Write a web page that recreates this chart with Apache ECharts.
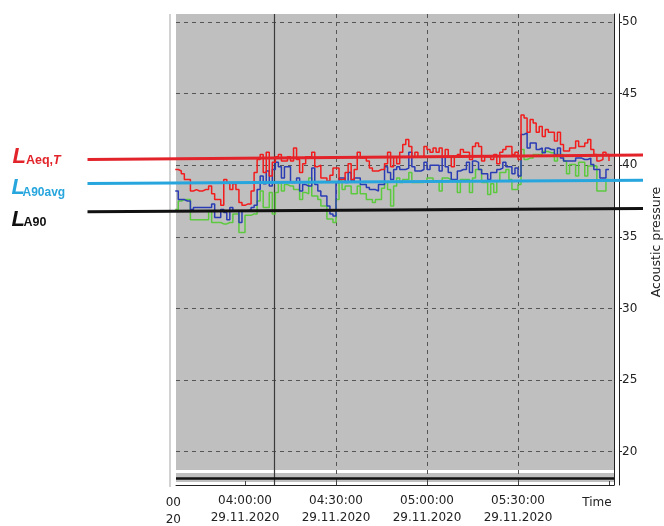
<!DOCTYPE html>
<html>
<head>
<meta charset="utf-8">
<title>Acoustic pressure</title>
<script src="https://cdn.jsdelivr.net/npm/echarts@6/dist/echarts.min.js"></script>
<style>
  html, body { margin: 0; padding: 0; background: #fff; }
  #chart { width: 664px; height: 526px; }
</style>
</head>
<body>
<div id="chart"></div>
<script>
// one value per minute, first sample at 03:37
const startTime = '03:37';
const stepMinutes = 1;
const dateLabel = '29.11.2020';

const redValues = [
  39.7, 39.6, 39.4, 39.0, 39.0, 38.2, 38.3, 38.2, 38.2, 38.3, 38.3, 38.55, 38.0, 37.6, 37.6, 37.2,
  39.0, 38.8, 38.3, 38.7, 38.3, 37.4, 37.2, 37.3, 37.3, 38.2, 39.5, 40.4, 40.75, 39.5, 40.9, 39.25,
  40.2, 40.6, 40.75, 40.3, 40.3, 40.6, 40.3, 41.2, 40.4, 39.5, 40.1, 40.6, 40.6, 40.9, 39.9, 40.0,
  39.1, 39.1, 38.9, 39.3, 39.8, 39.8, 39.0, 39.0, 39.5, 40.1, 39.0, 39.7, 40.9, 40.5, 40.5, 40.3,
  39.8, 39.6, 39.6, 39.7, 39.7, 40.1, 40.9, 39.9, 40.6, 40.1, 40.9, 41.45, 41.8, 41.3, 40.6, 40.9,
  40.6, 40.6, 41.3, 41.1, 40.9, 41.2, 40.9, 41.2, 40.6, 41.1, 40.6, 39.9, 40.6, 40.75, 41.1, 40.9,
  40.9, 40.4, 41.3, 41.55, 41.3, 40.3, 40.6, 40.6, 40.4, 40.75, 40.1, 40.9, 41.1, 41.3, 41.3, 40.75,
  40.9, 40.4, 43.5, 43.3, 42.3, 43.2, 42.95, 42.3, 42.7, 42.0, 42.5, 42.3, 42.3, 41.7, 42.3, 41.45,
  41.0, 41.0, 41.2, 41.2, 41.7, 41.3, 41.3, 41.55, 41.8, 41.1, 40.75, 40.3, 40.4, 40.9, 40.75, 40.3
];
const blueValues = [
  38.2, 37.6, 37.6, 37.5, 37.5, 36.9, 37.05, 37.05, 37.05, 37.05, 37.05, 37.05, 37.3, 36.35, 36.35, 36.9,
  36.7, 36.2, 37.05, 36.8, 36.8, 36.0, 36.8, 36.8, 36.9, 37.05, 37.2, 38.3, 39.25, 38.7, 39.6, 38.55,
  39.7, 40.2, 39.9, 39.1, 39.9, 39.9, 38.8, 38.8, 39.1, 38.2, 38.65, 38.55, 38.55, 39.8, 38.65, 38.2,
  37.85, 37.85, 37.15, 36.6, 36.45, 38.8, 39.1, 39.1, 38.8, 39.5, 38.9, 39.1, 39.1, 38.65, 38.65, 38.45,
  38.3, 38.3, 38.2, 38.65, 38.65, 39.9, 39.5, 39.0, 39.7, 39.9, 39.7, 39.7, 39.8, 40.9, 39.9, 39.6,
  39.6, 39.7, 40.2, 39.7, 40.0, 40.0, 40.0, 39.6, 40.6, 39.9, 39.5, 39.0, 39.0, 39.6, 39.7, 39.7,
  40.2, 39.5, 40.3, 40.2, 39.7, 39.4, 39.4, 39.0, 39.5, 39.5, 39.7, 39.8, 40.2, 39.9, 39.9, 39.4,
  39.8, 39.25, 42.15, 42.26, 41.2, 41.56, 41.56, 41.1, 41.2, 40.87, 41.2, 41.1, 41.1, 40.75, 41.2, 40.5,
  40.3, 40.3, 40.3, 40.3, 40.5, 40.5, 40.4, 40.4, 40.5, 40.05, 39.7, 39.7, 39.1, 39.1, 39.7, 39.7
];
const greenValues = [
  36.9, 37.5, 37.6, 37.6, 37.6, 36.2, 36.2, 36.2, 36.2, 36.2, 36.2, 36.8, 36.0, 36.0, 36.0, 35.9,
  35.9, 36.0, 36.0, 36.6, 36.6, 35.3, 35.3, 36.5, 36.5, 36.6, 36.6, 37.5, 38.2, 37.05, 37.05, 38.1,
  36.6, 38.1, 38.8, 38.2, 38.65, 38.55, 38.55, 38.3, 38.3, 37.6, 38.1, 38.0, 39.1, 37.85, 37.85, 37.6,
  37.15, 37.15, 36.25, 36.25, 36.0, 37.6, 38.9, 38.3, 38.55, 38.55, 38.0, 38.0, 38.55, 38.0, 38.0, 37.6,
  37.6, 37.4, 37.6, 37.6, 38.4, 38.8, 38.3, 37.15, 38.55, 39.1, 38.8, 39.0, 39.0, 39.5, 38.8, 38.8,
  38.8, 38.8, 38.9, 39.1, 39.1, 38.9, 38.9, 38.2, 39.1, 39.1, 39.0, 38.9, 38.9, 38.1, 39.0, 39.0,
  39.0, 38.1, 39.1, 39.7, 39.7, 38.8, 38.8, 37.95, 38.7, 38.1, 38.9, 39.5, 39.5, 39.7, 39.0, 38.3,
  38.3, 38.65, 41.1, 40.4, 40.5, 40.5, 40.75, 40.75, 40.75, 40.95, 40.95, 40.87, 40.87, 40.3, 40.75, 40.75,
  40.3, 39.4, 40.05, 40.05, 39.25, 40.2, 40.2, 39.25, 39.94, 39.94, 39.94, 38.2, 38.2, 38.2, 39.0, 39.0
];

// reference levels, value at left end and right end of the drawn line
const refNames = ['LAeq,T', 'LA90avg', 'LA90'];
const refLeft = [40.45, 38.78, 36.81];
const refRight = [40.75, 39.0, 37.04];

const xTickTimes = ['04:00:00', '04:30:00', '05:00:00', '05:30:00', '06:00:00'];
const xLabelTimes = ['04:00:00', '04:30:00', '05:00:00', '05:30:00'];
const yTickLabels = [20, 25, 30, 35, 40, 45, 50];
const cursorTime = '04:09:35';

function toMinutes(t) {
  const p = t.split(':').map(Number);
  return p[0] * 60 + p[1] + (p[2] || 0) / 60;
}
function pad(n) { return (n < 10 ? '0' : '') + n; }
function toPoints(values) {
  const t0 = toMinutes(startTime);
  return values.map((v, i) => [t0 + i * stepMinutes, v]);
}

const xMin = toMinutes('03:37:15');
const xMax = toMinutes('06:01:39');
const yMin = 17.67;
const yMax = 50.56;
const font = '"DejaVu Sans", sans-serif';
const refColors = ['#e3232a', '#27a6de', '#111111'];

const chart = echarts.init(document.getElementById('chart'));
chart.setOption({
  animation: false,
  backgroundColor: '#fff',
  grid: [
    { left: 176, right: 50, top: 14, bottom: 39 },
    { left: 87.5, right: 21, top: 14, bottom: 39 }
  ],
  xAxis: [
    {
      gridIndex: 0, type: 'value', min: xMin, max: xMax, splitNumber: 5, z: 1,
      axisLine: { show: true, onZero: false, lineStyle: { color: '#222' } },
      axisTick: { show: true, inside: true, length: 4, customValues: xTickTimes.map(toMinutes), lineStyle: { color: '#444' } },
      axisLabel: {
        margin: 7, fontFamily: font, fontSize: 12, color: '#222', lineHeight: 17,
        customValues: xLabelTimes.map(toMinutes),
        formatter: function (v) {
          const m = Math.round(v);
          return pad(Math.floor(m / 60)) + ':' + pad(m % 60) + ':00\n' + dateLabel;
        }
      },
      splitLine: { show: true, showMinLine: false, showMaxLine: false, lineStyle: { color: '#555', type: [4, 4], width: 1 } }
    },
    { gridIndex: 1, type: 'value', min: 0, max: 1, show: false }
  ],
  yAxis: [
    {
      gridIndex: 0, type: 'value', position: 'right', min: yMin, max: yMax, splitNumber: 6, z: 1,
      axisLine: { show: true, onZero: false, lineStyle: { color: '#222' } },
      axisTick: { show: false },
      axisLabel: { show: false },
      splitLine: { show: true, showMinLine: false, showMaxLine: false, lineStyle: { color: '#555', type: [4, 4], width: 1 } }
    },
    {
      gridIndex: 0, type: 'value', position: 'right', offset: 5, min: yMin, max: yMax, splitNumber: 6, z: 1,
      axisLine: { show: true, onZero: false, lineStyle: { color: '#222' } },
      axisTick: { show: true, length: 3, customValues: yTickLabels, lineStyle: { color: '#222' } },
      axisLabel: { margin: 3, fontFamily: font, fontSize: 12, color: '#222', customValues: yTickLabels },
      splitLine: { show: false }
    },
    { gridIndex: 1, type: 'value', min: yMin, max: yMax, show: false }
  ],
  series: [
    {
      type: 'line', xAxisIndex: 0, yAxisIndex: 0, data: [], silent: true,
      markArea: {
        silent: true, z: 0,
        itemStyle: { color: '#bfbfbf' },
        data: [
          [{ yAxis: 18.713 }, { yAxis: yMax }],
          [{ yAxis: 17.879 }, { yAxis: 18.505 }]
        ]
      },
      markLine: {
        silent: true, z: 1, symbol: 'none', label: { show: false },
        data: [
          { xAxis: toMinutes(cursorTime), lineStyle: { color: '#3a3a3a', width: 1.2, type: 'solid' } },
          { yAxis: 18.12, lineStyle: { color: '#111', width: 2.5, type: 'solid' } }
        ]
      }
    },
    {
      name: 'green', type: 'line', step: 'end', z: 3, symbol: 'none', data: toPoints(greenValues),
      lineStyle: { color: '#5cc93f', width: 1.5 }, itemStyle: { color: '#5cc93f' }
    },
    {
      name: 'blue', type: 'line', step: 'end', z: 3, symbol: 'none', data: toPoints(blueValues),
      lineStyle: { color: '#2a3cb4', width: 1.5 }, itemStyle: { color: '#2a3cb4' }
    },
    {
      name: 'red', type: 'line', step: 'end', z: 3, symbol: 'none', data: toPoints(redValues),
      lineStyle: { color: '#f21c1c', width: 1.5 }, itemStyle: { color: '#f21c1c' }
    }
  ].concat(refNames.map((n, i) => ({
    name: n, type: 'line', xAxisIndex: 1, yAxisIndex: 2, z: 4, symbol: 'none', silent: true,
    data: [[0, refLeft[i]], [1, refRight[i]]],
    lineStyle: { color: refColors[i], width: 3 }
  }))),
  graphic: [
    { type: 'line', shape: { x1: 170, y1: 14, x2: 170, y2: 487 }, style: { stroke: '#d2d2d2', lineWidth: 2 } },
    // left labels
    { type: 'text', x: 12.5, y: 156.5, style: { text: 'L', fill: refColors[0], font: 'italic bold 22px "Liberation Sans", sans-serif', textAlign: 'left', textVerticalAlign: 'middle' } },
    { type: 'text', x: 26, y: 161, style: { text: '{a|Aeq,}{t|T}', fill: refColors[0], textAlign: 'left', textVerticalAlign: 'middle',
      rich: { a: { fill: refColors[0], font: 'bold 12.5px "Liberation Sans", sans-serif' }, t: { fill: refColors[0], font: 'italic bold 12.5px "Liberation Sans", sans-serif' } } } },
    { type: 'text', x: 11.5, y: 188, style: { text: 'L', fill: refColors[1], font: 'italic bold 22px "Liberation Sans", sans-serif', textAlign: 'left', textVerticalAlign: 'middle' } },
    { type: 'text', x: 22.5, y: 193, style: { text: 'A90avg', fill: refColors[1], font: 'bold 12px "Liberation Sans", sans-serif', textAlign: 'left', textVerticalAlign: 'middle' } },
    { type: 'text', x: 11.5, y: 219.5, style: { text: 'L', fill: refColors[2], font: 'italic bold 22px "Liberation Sans", sans-serif', textAlign: 'left', textVerticalAlign: 'middle' } },
    { type: 'text', x: 23.5, y: 223, style: { text: 'A90', fill: refColors[2], font: 'bold 12.5px "Liberation Sans", sans-serif', textAlign: 'left', textVerticalAlign: 'middle' } },
    // axis names
    { type: 'text', x: 657, y: 242, rotation: Math.PI / 2, style: { text: 'Acoustic pressure', fill: '#222', font: '12.5px ' + font, textAlign: 'center', textVerticalAlign: 'middle' } },
    { type: 'text', x: 597, y: 502.5, style: { text: 'Time', fill: '#222', font: '12px ' + font, textAlign: 'center', textVerticalAlign: 'middle' } },
    // clipped first time label
    { type: 'text', x: 181, y: 502.5, style: { text: '00', fill: '#222', font: '12px ' + font, textAlign: 'right', textVerticalAlign: 'middle' } },
    { type: 'text', x: 181, y: 519.5, style: { text: '20', fill: '#222', font: '12px ' + font, textAlign: 'right', textVerticalAlign: 'middle' } }
  ]
});
</script>
</body>
</html>
